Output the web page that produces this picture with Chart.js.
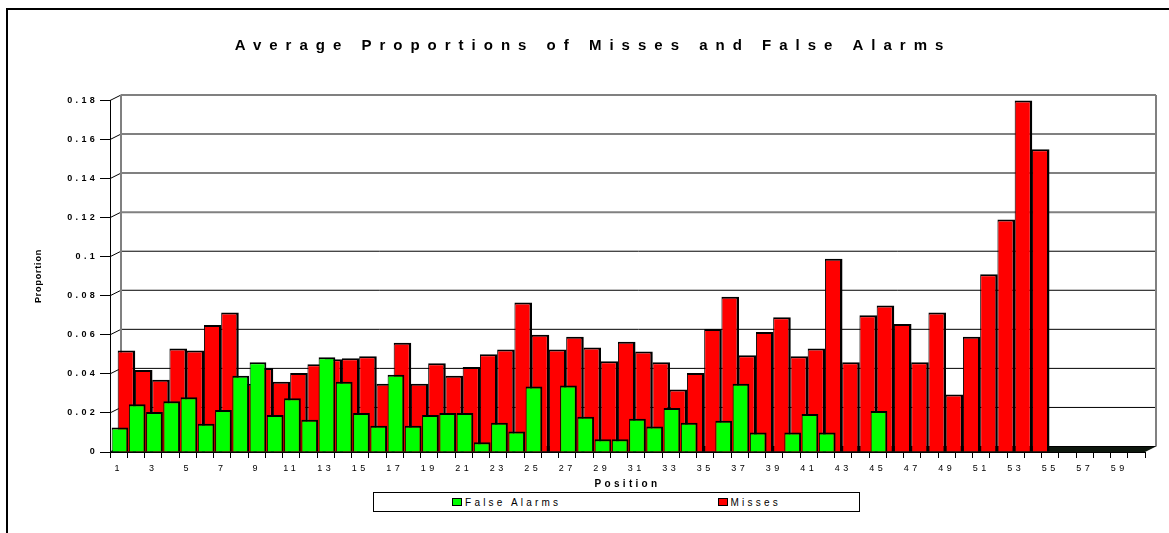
<!DOCTYPE html>
<html>
<head>
<meta charset="utf-8">
<title>Average Proportions of Misses and False Alarms</title>
<script src="https://cdn.jsdelivr.net/npm/chart.js@4.4.1/dist/chart.umd.min.js"></script>
<style>
  html, body { margin: 0; padding: 0; background: #fff; overflow: hidden; }
  #wrap { position: relative; width: 1169px; height: 533px; overflow: hidden; }
  #frame { position: absolute; left: 6px; top: 8px; width: 1400px; height: 800px; border: 2px solid #000; }
  #chart { position: absolute; left: 0; top: 0; }
  #legend {
    position: absolute; left: 373px; top: 492px; width: 485px; height: 18px;
    border: 1px solid #000; background: #fff;
    display: flex; justify-content: space-around; align-items: center;
    font: 10px "Liberation Sans", Arial, sans-serif; letter-spacing: 3.2px; color: #000;
  }
  .item { display: flex; align-items: center; }
  .swatch { width: 8px; height: 6px; border: 1px solid #000; margin-right: 3px; }
</style>
</head>
<body>
<div id="wrap">
  <div id="frame"></div>
  <canvas id="chart" width="1169" height="533"></canvas>
  <div id="legend"></div>
</div>
<script>
// x categories
const positions = [
  '1','2','3','4','5','6','7','8','9','10',
  '11','12','13','14','15','16','17','18','19','20',
  '21','22','23','24','25','26','27','28','29','30',
  '31','32','33','34','35','36','37','38','39','40',
  '41','42','43','44','45','46','47','48','49','50',
  '51','52','53','54','55','56','57','58','59','60'
];

const falseAlarms = [
  0.0125, 0.0245, 0.0205, 0.026, 0.028, 0.0145, 0.0215, 0.039, 0.046, 0.019,
  0.0275, 0.0165, 0.0485, 0.036, 0.020, 0.0135, 0.0395, 0.0135, 0.019, 0.020,
  0.020, 0.005, 0.015, 0.0105, 0.0335, 0, 0.034, 0.018, 0.0065, 0.0065,
  0.017, 0.013, 0.0225, 0.015, 0, 0.016, 0.035, 0.010, 0, 0.010,
  0.0195, 0.010, 0, 0, 0.021, 0, 0, 0, 0, 0,
  0, 0, 0, 0, 0, 0, 0, 0, 0, 0
];

const misses = [
  0.052, 0.042, 0.037, 0.053, 0.052, 0.065, 0.0715, 0.035, 0.043, 0.036,
  0.0405, 0.045, 0.0475, 0.048, 0.049, 0.035, 0.056, 0.035, 0.0455, 0.039,
  0.0435, 0.050, 0.0525, 0.0765, 0.060, 0.0525, 0.059, 0.0535, 0.0465, 0.0565,
  0.0515, 0.046, 0.032, 0.0405, 0.063, 0.0795, 0.0495, 0.0615, 0.069, 0.049,
  0.053, 0.099, 0.046, 0.070, 0.075, 0.0655, 0.046, 0.0715, 0.0295, 0.059,
  0.091, 0.119, 0.18, 0.155, 0, 0, 0, 0, 0, 0
];

const yTickLabels = ['0', '0.02', '0.04', '0.06', '0.08', '0.1', '0.12', '0.14', '0.16', '0.18'];

const TITLE = 'Average Proportions of Misses and False Alarms';
const Y_TITLE = 'Proportion';
const X_TITLE = 'Position';

const FONT = '"Liberation Sans", Arial, sans-serif';
const DEPTH_X = 11;    // 3d back wall offset
const DEPTH_Y = 5.5;
const GREEN_SHIFT = 0.078;   // front series sits a bit right of the category centre
const RED_SHIFT = 0.455;     // back series is pushed into the depth

// one tick per category on the hidden bar axes so the bars get the full slot width
const slotTicks = (scale) => {
  scale.ticks = positions.map((p, i) => ({ value: i + 1 }));
};

// spaced-out lettering like the old chart renderer
const spacing = {
  id: 'spacing',
  beforeDraw(chart) { chart.ctx.letterSpacing = '3.3px'; }
};

// side wall, back wall grid and floor of the 3d box
const walls = {
  id: 'walls',
  beforeDatasetsDraw(chart) {
    const { ctx, chartArea: { left, right, top, bottom }, scales: { y } } = chart;
    const seg = (pts) => {
      ctx.beginPath();
      ctx.moveTo(pts[0][0], pts[0][1]);
      pts.slice(1).forEach(p => ctx.lineTo(p[0], p[1]));
      ctx.stroke();
    };
    ctx.save();

    ctx.fillStyle = '#0d170d';
    ctx.beginPath();
    ctx.moveTo(left, bottom);
    ctx.lineTo(right, bottom);
    ctx.lineTo(right + DEPTH_X, bottom - DEPTH_Y);
    ctx.lineTo(left + DEPTH_X, bottom - DEPTH_Y);
    ctx.closePath();
    ctx.fill();

    y.ticks.forEach(t => {
      const py = y.getPixelForValue(t.value);
      ctx.strokeStyle = '#000';
      ctx.lineWidth = 1;
      seg([[left, py], [left + DEPTH_X, py - DEPTH_Y]]);
      if (t.value > 0.105) { ctx.strokeStyle = '#808080'; ctx.lineWidth = 2; }
      seg([[left + DEPTH_X, py - DEPTH_Y], [right + DEPTH_X, py - DEPTH_Y]]);
    });

    ctx.strokeStyle = '#808080';
    ctx.lineWidth = 2;
    seg([[left + DEPTH_X, bottom - DEPTH_Y], [left + DEPTH_X, top - DEPTH_Y]]);
    seg([[right + DEPTH_X, bottom - DEPTH_Y], [right + DEPTH_X, top - DEPTH_Y]]);
    ctx.restore();
  }
};

const titles = {
  id: 'titles',
  afterDraw(chart) {
    const { ctx } = chart;
    ctx.save();
    ctx.fillStyle = '#000';
    ctx.textAlign = 'center';
    ctx.textBaseline = 'middle';
    ctx.font = 'bold 15px ' + FONT;
    ctx.letterSpacing = '8px';
    ctx.fillText(TITLE, 593, 46);

    ctx.font = 'bold 9px ' + FONT;
    ctx.letterSpacing = '0.8px';
    ctx.textBaseline = 'alphabetic';
    ctx.translate(41, 276);
    ctx.rotate(-Math.PI / 2);
    ctx.fillText(Y_TITLE, 0, 0);
    ctx.restore();
  }
};

const chart = new Chart(document.getElementById('chart'), {
  type: 'bar',
  data: {
    labels: positions,
    datasets: [
      {
        label: 'False Alarms',
        data: falseAlarms,
        xAxisID: 'xg',
        grouped: false,
        backgroundColor: '#00ff00',
        borderColor: '#000',
        borderWidth: { left: 1, top: 2, right: 2, bottom: 0 },
        barPercentage: 0.97,
        categoryPercentage: 1,
        clip: false
      },
      {
        label: 'Misses',
        data: misses,
        xAxisID: 'xr',
        grouped: false,
        backgroundColor: '#ff0000',
        borderColor: '#000',
        borderWidth: { left: 1, top: 2, right: 2.5, bottom: 0 },
        barPercentage: 1.02,
        categoryPercentage: 1,
        clip: false
      }
    ]
  },
  options: {
    responsive: false,
    animation: false,
    layout: { padding: { left: 34, right: 24, top: 100.5, bottom: 0 } },
    plugins: {
      legend: { display: false },
      title: { display: false },
      tooltip: { enabled: false }
    },
    scales: {
      x: {
        type: 'category',
        offset: true,
        grid: { offset: true, drawOnChartArea: false, tickLength: 6, color: '#000' },
        border: { display: true, color: '#000', width: 1 },
        ticks: {
          autoSkip: false,
          maxRotation: 0,
          padding: 5,
          color: '#000',
          font: { family: FONT, size: 9 },
          callback: (v, i) => (i % 2 === 0 ? positions[i] : '')
        },
        title: {
          display: true,
          text: X_TITLE,
          color: '#000',
          font: { family: FONT, size: 10, weight: 'bold' },
          padding: { top: 0, bottom: 43 }
        },
        afterFit: (scale) => { scale.height = 81; }
      },
      xg: {
        type: 'linear',
        display: false,
        offset: false,
        min: 0.5 - GREEN_SHIFT,
        max: positions.length + 0.5 - GREEN_SHIFT,
        afterBuildTicks: slotTicks
      },
      xr: {
        type: 'linear',
        display: false,
        offset: false,
        min: 0.5 - RED_SHIFT,
        max: positions.length + 0.5 - RED_SHIFT,
        afterBuildTicks: slotTicks
      },
      y: {
        min: 0,
        max: 0.18,
        grid: { drawOnChartArea: false, tickLength: 10, color: '#000' },
        border: { display: true, color: '#000', width: 1 },
        ticks: {
          stepSize: 0.02,
          padding: 2,
          color: '#000',
          font: { family: FONT, size: 9, weight: 'bold' },
          callback: (v, i) => yTickLabels[i]
        },
        afterFit: (scale) => { scale.width = 76; }
      }
    }
  },
  plugins: [spacing, walls, titles]
});

// html legend built from the datasets
function buildLegend(c) {
  const box = document.getElementById('legend');
  box.innerHTML = '';
  c.data.datasets.forEach(ds => {
    const item = document.createElement('div');
    item.className = 'item';
    const sw = document.createElement('span');
    sw.className = 'swatch';
    sw.style.background = ds.backgroundColor;
    const txt = document.createElement('span');
    txt.textContent = ds.label;
    item.appendChild(sw);
    item.appendChild(txt);
    box.appendChild(item);
  });
}
buildLegend(chart);
</script>
</body>
</html>
